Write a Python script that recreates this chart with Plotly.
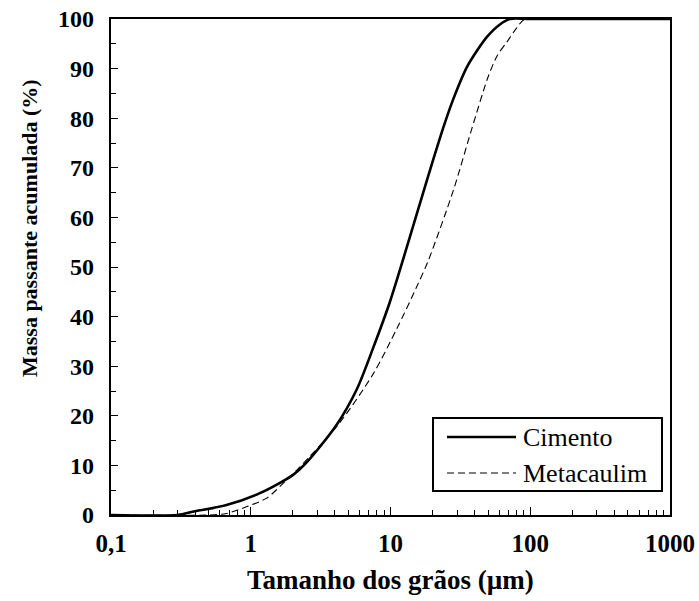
import plotly.graph_objects as go

# Particle size distribution (cumulative passing, %) vs grain size (µm)
cimento_x = [0.1, 0.3, 0.39, 0.67, 1.16, 2.01, 2.51, 4.12, 5.73, 7.54, 9.91,
             19.2, 23.8, 28.0, 35.2, 42.0, 49.0, 60.0, 71.6, 100, 1000]
cimento_y = [0, 0, 0.7, 2.0, 4.4, 8.1, 10.6, 18.2, 25.3, 33.8, 43.0,
             69.6, 78.0, 83.7, 90.3, 93.8, 96.4, 98.8, 100, 100, 100]

meta_x = [0.1, 0.51, 0.67, 0.94, 1.3, 1.81, 2.25, 4.3, 7.54, 11.07, 15.4,
          18.7, 28.2, 38.3, 49.9, 58.0, 68.2, 80.0, 91.6, 150, 1000]
meta_y = [0, 0, 0.3, 1.7, 3.4, 7.1, 9.7, 18.5, 28.5, 37.5, 46.0,
          51.4, 65.5, 78.0, 88.3, 92.6, 95.4, 98.2, 100, 100, 100]

series_names = ["Cimento", "Metacaulim"]

x_tickvals = [0.1, 1, 10, 100, 1000]
x_ticktext = ["0,1", "1", "10", "100", "1000"]
x_minor = [k * 10 ** e for e in range(-1, 3) for k in range(2, 10)]

x_title = "Tamanho dos grãos (µm)"
y_title = "Massa passante acumulada (%)"

SERIF = "Liberation Serif"

fig = go.Figure()
fig.add_trace(go.Scatter(
    x=cimento_x, y=cimento_y, mode="lines", name=series_names[0],
    line=dict(color="black", width=2.6, shape="spline", smoothing=0.8),
    showlegend=False))
fig.add_trace(go.Scatter(
    x=meta_x, y=meta_y, mode="lines", name=series_names[1],
    line=dict(color="black", width=1.1, dash="7px,4px", shape="spline", smoothing=0.8),
    showlegend=False))

L, R, T, B = 111, 29, 19, 86
W, H = 699, 601

fig.update_layout(
    width=W, height=H,
    margin=dict(l=L, r=R, t=T, b=B, pad=0),
    paper_bgcolor="white", plot_bgcolor="white",
    font=dict(family=SERIF, color="black"),
    xaxis=dict(
        type="log", range=[-1, 3], automargin=False,
        tickvals=x_tickvals, ticktext=x_ticktext,
        ticks="inside", ticklen=8, tickwidth=1.3, tickcolor="black",
        minor=dict(tickvals=x_minor, ticks="inside", ticklen=5, tickwidth=1, tickcolor="black"),
        showline=True, linecolor="black", linewidth=2.2, mirror=True,
        showgrid=False, zeroline=False,
        tickfont=dict(family=SERIF, size=25, color="black", weight="bold"),
        ticklabelstandoff=5,
    ),
    yaxis=dict(
        range=[0, 100], dtick=10, automargin=False,
        ticks="inside", ticklen=7, tickwidth=1.3, tickcolor="black",
        minor=dict(dtick=5, ticks="inside", ticklen=5, tickwidth=1, tickcolor="black"),
        showline=True, linecolor="black", linewidth=2.2, mirror=True,
        showgrid=False, zeroline=False,
        tickfont=dict(family=SERIF, size=24, color="black", weight="bold"),
        ticklabelstandoff=10,
    ),
)

# Axis titles
fig.add_annotation(text=x_title, xref="paper", yref="paper",
                   x=(390 - L) / (W - L - R), y=-(580 - (H - B)) / (H - T - B),
                   xanchor="center", yanchor="middle", showarrow=False,
                   font=dict(family=SERIF, size=27, color="black", weight="bold"))
fig.add_annotation(text=y_title, xref="paper", yref="paper", textangle=-90,
                   x=-(L - 29) / (W - L - R), y=(H - B - 228) / (H - T - B),
                   xanchor="center", yanchor="middle", showarrow=False,
                   font=dict(family=SERIF, size=22, color="black", weight="bold"))

# Legend box drawn inside the plot area
pw, ph = W - L - R, H - T - B
def px_x(p):
    return (p - L) / pw
def px_y(p):
    return (H - B - p) / ph

fig.add_shape(type="rect", xref="paper", yref="paper",
              x0=px_x(433), x1=px_x(662), y0=px_y(491), y1=px_y(418),
              line=dict(color="black", width=2), fillcolor="white", layer="above")
legend_rows = [(437, dict(color="black", width=2.6)),
               (473, dict(color="black", width=1.1, dash="7px,4px"))]
for name, (row_y, ln) in zip(series_names, legend_rows):
    fig.add_shape(type="line", xref="paper", yref="paper",
                  x0=px_x(447), x1=px_x(516), y0=px_y(row_y), y1=px_y(row_y),
                  line=ln, layer="above")
    fig.add_annotation(text=name, xref="paper", yref="paper",
                       x=px_x(521), y=px_y(row_y), xanchor="left", yanchor="middle",
                       showarrow=False,
                       font=dict(family=SERIF, size=26, color="black"))

fig.write_html("out.html")
